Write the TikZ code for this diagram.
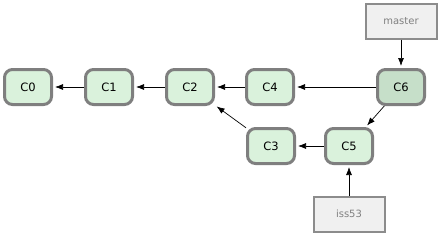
\documentclass[tikz,border=0pt]{standalone}
\usepackage{fontspec}
\setmainfont{DejaVu Sans}
\usetikzlibrary{arrows.meta}
\definecolor{commitfill}{HTML}{DAF2DC}
\definecolor{headfill}{HTML}{C6DFC9}
\definecolor{edgegray}{HTML}{7F7F7F}
\definecolor{reffill}{HTML}{F0F0F0}
\tikzset{
	commit/.style={draw=edgegray, line width=3pt, fill=commitfill, rounded corners=8pt,
		minimum width=47pt, minimum height=35pt, inner sep=0pt, font=\fontsize{11.5}{13}\selectfont},
	branch/.style={draw=edgegray!90, line width=2pt, fill=reffill, minimum width=71pt,
		minimum height=35pt, inner sep=0pt, text=gray, font=\fontsize{10}{12}\selectfont},
	parent/.style={-{Latex[length=8pt,width=6pt]}, line width=0.7pt, shorten >=2pt}
}
\begin{document}
\begin{tikzpicture}[x=1pt, y=-1pt]
	\useasboundingbox (0,0) rectangle (441,234);
	\node[commit] (c0) at (28,87) {C0};
	\node[commit] (c1) at (109,87) {C1};
	\node[commit] (c2) at (190,87) {C2};
	\node[commit] (c4) at (270,87) {C4};
	\node[commit, fill=headfill] (c6) at (401,87) {C6};
	\node[commit] (c3) at (271,146) {C3};
	\node[commit] (c5) at (349,146) {C5};
	\node[branch] (master) at (401,21) {master};
	\node[branch] (iss53) at (349,214) {iss53};
	\draw[parent] (c1) -- (c0);
	\draw[parent] (c2) -- (c1);
	\draw[parent] (c4) -- (c2);
	\draw[parent] (c6) -- (c4);
	\draw[parent] (c6) -- (c5);
	\draw[parent] (c3) -- (c2);
	\draw[parent] (c5) -- (c3);
	\draw[parent] (master) -- (c6);
	\draw[parent] (iss53) -- (c5);
\end{tikzpicture}
\end{document}
